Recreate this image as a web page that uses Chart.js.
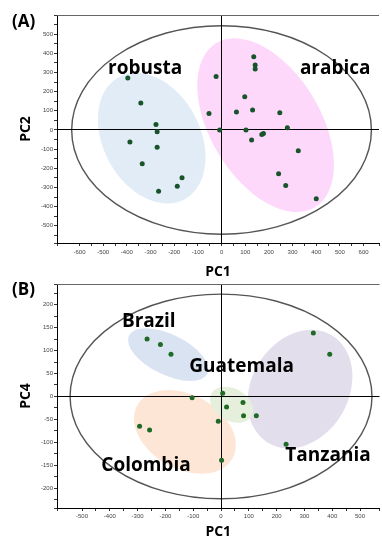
<!DOCTYPE html>
<html>
<head>
<meta charset="utf-8">
<script src="https://cdn.jsdelivr.net/npm/chart.js@4.4.1/dist/chart.umd.min.js"></script>
<style>
  html, body { margin: 0; padding: 0; background: #fff; overflow: hidden; }
  .panel { position: absolute; left: 0; width: 382px; }
  #wrapA { top: 0; height: 280px; }
  #wrapB { top: 277px; height: 263px; }
</style>
</head>
<body>
<div class="panel" id="wrapA"><canvas id="chartA" width="382" height="280"></canvas></div>
<div class="panel" id="wrapB"><canvas id="chartB" width="382" height="263"></canvas></div>
<script>
// ---- panel A : PC1 / PC2 ----
const robustaPC1 = [-396, -341, -277, -272, -387, -272, -335, -167, -187, -266];
const robustaPC2 = [271, 141, 28, -10, -63, -90, -177, -250, -294, -320];
const arabicaPC1 = [136, 142, 142, -23, 98, -53, 63, 131, 246, -8, 103, 278, 177, 170, 127, 324, 241, 271, 400];
const arabicaPC2 = [382, 339, 318, 279, 173, 86, 94, 104, 90, 0, 0, 12, -18, -24, -52, -108, -228, -290, -359];

// group ellipses: [centre PC1, centre PCy, radius PC1, radius PCy, tilt deg]
const robustaEllipse = [-295, -43, 205, 362, -28];
const arabicaEllipse = [186, 25, 233, 500, -31];
const hotellingA = [0, 0, 633, 544, 0];

const robustaLabelAt = [-323, 319];
const arabicaLabelAt = [480, 319];

const pc1TicksA = [-600, -500, -400, -300, -200, -100, 0, 100, 200, 300, 400, 500, 600];
const pc2TicksA = [-500, -400, -300, -200, -100, 0, 100, 200, 300, 400, 500];

// ---- panel B : PC1 / PC4 ----
const brazilPC1 = [-266, -218, -180];
const brazilPC4 = [125, 113, 92];
const guatemalaPC1 = [6, 20, 79, 81];
const guatemalaPC4 = [7, -23, -13, -42];
const colombiaPC1 = [-104, -10, -293, -257, 2];
const colombiaPC4 = [-3, -54, -65, -73, -139];
const tanzaniaPC1 = [127, 234, 332, 391];
const tanzaniaPC4 = [-42, -104, 138, 92];

const colombiaEllipse = [-130, -77, 196, 81, 29];
const brazilEllipse = [-190, 91, 157, 44, 26];
const tanzaniaEllipse = [284, 16, 175, 136, 30];
const guatemalaEllipse = [38, -18, 83, 35, 30];
const hotellingB = [0, 0, 543, 223, 0];

const brazilLabelAt = [-260, 163];
const guatemalaLabelAt = [74, 65];
const tanzaniaLabelAt = [385, -129];
const colombiaLabelAt = [-270, -150];

const pc1TicksB = [-500, -400, -300, -200, -100, 0, 100, 200, 300, 400, 500];
const pc4TicksB = [-200, -150, -100, -50, 0, 50, 100, 150, 200];

const toPoints = (xs, ys) => xs.map((v, i) => ({ x: v, y: ys[i] }));

const LABEL_FONT = 'bold 19px "Open Sans"';

// draws the shaded groups, the big T2 ellipse, the labels and the frame
const makeDecor = (cfg) => ({
  id: 'decor',
  beforeDraw(chart) {
    const { ctx, chartArea, scales } = chart;
    const xs = scales.x, ys = scales.y;
    const ellipse = (e) => {
      const cx = xs.getPixelForValue(e[0]);
      const cy = ys.getPixelForValue(e[1]);
      const rx = Math.abs(xs.getPixelForValue(e[0] + e[2]) - cx);
      const ry = Math.abs(ys.getPixelForValue(e[1] + e[3]) - cy);
      ctx.beginPath();
      ctx.ellipse(cx, cy, rx, ry, e[4] * Math.PI / 180, 0, Math.PI * 2);
    };
    ctx.save();
    ctx.beginPath();
    ctx.rect(chartArea.left, chartArea.top, chartArea.right - chartArea.left, chartArea.bottom - chartArea.top);
    ctx.clip();
    cfg.groups.forEach((g) => {
      ellipse(g.e);
      ctx.fillStyle = g.color;
      ctx.fill();
    });
    ellipse(cfg.hotelling);
    ctx.strokeStyle = '#555';
    ctx.lineWidth = 1.4;
    ctx.stroke();
    ctx.restore();
  },
  afterDraw(chart) {
    const { ctx, chartArea, scales } = chart;
    ctx.save();
    // top border of the frame
    ctx.strokeStyle = '#666';
    ctx.lineWidth = 1;
    ctx.beginPath();
    ctx.moveTo(chartArea.left, chartArea.top + 0.5);
    ctx.lineTo(chartArea.right, chartArea.top + 0.5);
    ctx.stroke();

    ctx.fillStyle = '#000';
    ctx.textAlign = 'center';
    ctx.textBaseline = 'middle';
    ctx.font = LABEL_FONT;
    cfg.groups.forEach((g) => {
      ctx.fillText(g.name, scales.x.getPixelForValue(g.at[0]), scales.y.getPixelForValue(g.at[1]));
    });

    ctx.textAlign = 'left';
    ctx.font = 'bold 17px "Open Sans"';
    ctx.fillText(cfg.letter, 12, cfg.letterY);
    ctx.restore();
  }
});

const axisOpts = (min, max, step, labels, size, title, pad, titlePad) => ({
  type: 'linear',
  min: min,
  max: max,
  afterFit: (s) => {
    if (s.isHorizontal()) s.height = size; else s.width = size;
  },
  border: { display: true, color: '#000', width: 1 },
  grid: {
    drawOnChartArea: true,
    color: (c) => (c.tick && c.tick.value === 0 ? '#000' : 'rgba(0,0,0,0)'),
    tickColor: '#333',
    tickLength: 3,
    lineWidth: 1
  },
  ticks: {
    stepSize: step,
    autoSkip: false,
    maxRotation: 0,
    padding: pad,
    color: '#444',
    font: { size: 6, family: 'Liberation Sans' },
    callback: (v) => (labels.includes(v) ? String(v) : '')
  },
  title: {
    display: true,
    text: title,
    color: '#000',
    font: { size: 14, weight: 'bold', family: 'Open Sans', lineHeight: 1 },
    padding: titlePad
  }
});

const pointSet = (data, color) => ({
  data: data,
  pointRadius: 2.5,
  pointHoverRadius: 2.5,
  backgroundColor: color,
  borderColor: color,
  borderWidth: 0
});

const baseOptions = (padTop, xAxis, yAxis) => ({
  responsive: false,
  animation: false,
  devicePixelRatio: 1,
  layout: { padding: { top: padTop, left: 0, right: 0, bottom: 0 } },
  plugins: { legend: { display: false }, tooltip: { enabled: false } },
  scales: { x: xAxis, y: yAxis }
});

new Chart(document.getElementById('chartA'), {
  type: 'scatter',
  data: {
    datasets: [
      pointSet(toPoints(robustaPC1, robustaPC2), '#17542a'),
      pointSet(toPoints(arabicaPC1, arabicaPC2), '#17542a')
    ]
  },
  options: baseOptions(
    15,
    axisOpts(-695, 665, 50, pc1TicksA, 37, 'PC1', 3, { top: 0, bottom: 1 }),
    axisOpts(-590, 600, 50, pc2TicksA, 57, 'PC2', 1, { top: 19, bottom: 0 })
  ),
  plugins: [makeDecor({
    letter: '(A)',
    letterY: 22,
    hotelling: hotellingA,
    groups: [
      { name: 'robusta', e: robustaEllipse, color: '#e1ecf7', at: robustaLabelAt },
      { name: 'arabica', e: arabicaEllipse, color: '#fdd8fb', at: arabicaLabelAt }
    ]
  })]
});

new Chart(document.getElementById('chartB'), {
  type: 'scatter',
  data: {
    datasets: [
      pointSet(toPoints(brazilPC1, brazilPC4), '#1f6a27'),
      pointSet(toPoints(guatemalaPC1, guatemalaPC4), '#1f6a27'),
      pointSet(toPoints(colombiaPC1, colombiaPC4), '#1f6a27'),
      pointSet(toPoints(tanzaniaPC1, tanzaniaPC4), '#1f6a27')
    ]
  },
  options: baseOptions(
    7,
    axisOpts(-590, 570, 50, pc1TicksB, 32, 'PC1', 2, { top: 0, bottom: 1 }),
    axisOpts(-243, 245, 25, pc4TicksB, 57, 'PC4', 1, { top: 19, bottom: 0 })
  ),
  plugins: [makeDecor({
    letter: '(B)',
    letterY: 13,
    hotelling: hotellingB,
    groups: [
      { name: 'Colombia', e: colombiaEllipse, color: '#fde6d5', at: colombiaLabelAt },
      { name: 'Brazil', e: brazilEllipse, color: '#d9e3f1', at: brazilLabelAt },
      { name: 'Tanzania', e: tanzaniaEllipse, color: '#e3deec', at: tanzaniaLabelAt },
      { name: 'Guatemala', e: guatemalaEllipse, color: '#e5efdc', at: guatemalaLabelAt }
    ]
  })]
});
</script>
</body>
</html>
